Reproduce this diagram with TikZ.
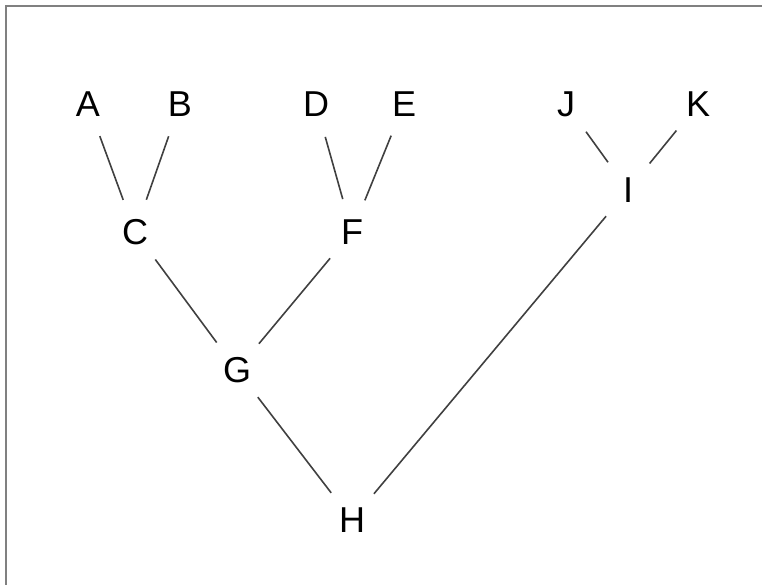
\documentclass[tikz,border=0pt]{standalone}
\usepackage{fontspec}
\setmainfont{Liberation Sans}
\begin{document}
\begin{tikzpicture}[x=1pt,y=-1pt,
  lbl/.style={circle,minimum size=68pt,inner sep=0pt,font=\fontsize{36}{36}\selectfont},
  link/.style={draw=black!75,line width=1.6pt}]
\useasboundingbox (0,0) rectangle (762,585);
\draw[black!50,line width=2.2pt] (6,590) -- (6,6) -- (770,6);
\node[lbl] (A) at (88,104) {A};
\node[lbl] (B) at (180,104) {B};
\node[lbl] (C) at (135,232) {C};
\node[lbl] (D) at (316,104) {D};
\node[lbl] (E) at (404,104) {E};
\node[lbl] (F) at (352,232) {F};
\node[lbl] (G) at (237,370) {G};
\node[lbl] (H) at (352,520) {H};
\node[lbl] (I) at (628,190) {I};
\node[lbl] (J) at (566,104) {J};
\node[lbl] (K) at (698,104) {K};
\draw[link] (A) -- (C);
\draw[link] (B) -- (C);
\draw[link] (D) -- (F);
\draw[link] (E) -- (F);
\draw[link] (C) -- (G);
\draw[link] (F) -- (G);
\draw[link] (G) -- (H);
\draw[link] (H) -- (I);
\draw[link] (J) -- (I);
\draw[link] (K) -- (I);
\end{tikzpicture}
\end{document}
